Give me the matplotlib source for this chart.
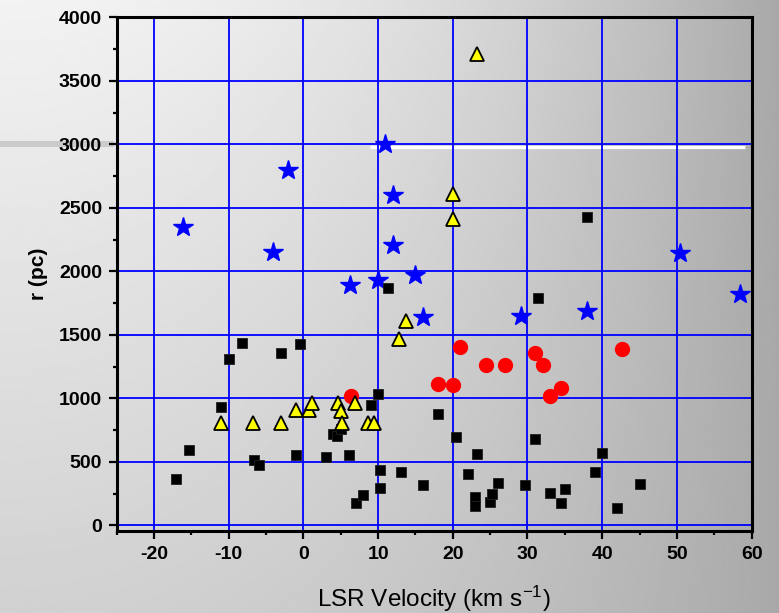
import numpy as np
import matplotlib
matplotlib.use('Agg')
import matplotlib.pyplot as plt
from matplotlib.ticker import MultipleLocator

plt.rcParams['font.family'] = ['Liberation Sans', 'DejaVu Sans']
plt.rcParams['mathtext.default'] = 'regular'
plt.rcParams['axes.unicode_minus'] = False

# 蓝色五角星
star_v = [-16.1, -2.0, -4.1, 10.9, 12.0, 12.0, 6.2, 10.0, 15.0, 16.0, 29.1, 38.0, 50.4, 58.4]
star_r = [2350, 2800, 2150, 3000, 2600, 2205, 1890, 1930, 1972, 1642, 1652, 1690, 2146, 1820]

# 红色圆点
circ_v = [6.4, 21.0, 18.0, 20.0, 24.5, 27.0, 31.0, 32.1, 34.5, 33.0, 42.6]
circ_r = [1018, 1407, 1113, 1105, 1262, 1262, 1358, 1266, 1081, 1020, 1389]

# 黑色方块
sq_v = [-17.0, -15.3, -11.0, -9.95, -8.2, -3.0, -0.45, -6.6, -6.0, -0.95,
        3.07, 3.9, 4.47, 5.0, 6.05, 7.0, 8.0, 9.05, 10.05, 10.2,
        10.3, 11.3, 13.05, 16.05, 18.0, 20.4, 22.0, 23.2, 23.0, 23.0,
        24.95, 25.3, 26.0, 29.7, 31.0, 31.4, 33.0, 34.5, 35.0, 38.0,
        39.05, 40.0, 42.0, 45.0]
sq_r = [362, 594, 934, 1312, 1440, 1357, 1430, 514, 478, 556,
        538, 720, 703, 760, 558, 175, 243, 947, 1035, 435,
        296, 1866, 417, 320, 876, 694, 404, 560, 222, 150,
        188, 246, 335, 315, 680, 1789, 257, 175, 290, 2426,
        424, 568, 139, 328]

# 黄色三角形
tri_v = [23.3, 20.0, 20.0, 13.8, 12.8, -11.0, -6.8, -3.0, -1.0, 0.7,
         1.1, 4.7, 5.1, 5.2, 6.9, 8.6, 9.4]
tri_r = [3710, 2610, 2410, 1612, 1470, 810, 810, 810, 909, 905,
         962, 962, 902, 806, 962, 806, 808]

x_ticks = [-20, -10, 0, 10, 20, 30, 40, 50, 60]
y_ticks = [0, 500, 1000, 1500, 2000, 2500, 3000, 3500, 4000]


def draw_background(fig):
    """灰色渐变背景 + 原图里的两条横向残影"""
    bg = fig.add_axes([0, 0, 1, 1], zorder=-10)
    xx, yy = np.meshgrid(np.linspace(0, 1, 400), np.linspace(0, 1, 300))
    g = 0.66 + 0.29 * (1 - xx ** 2) * (1 - 0.45 * yy)
    bg.imshow(g, cmap='gray', vmin=0, vmax=1, aspect='auto',
              extent=[0, 1, 1, 0], interpolation='bilinear')
    bg.plot([0, 0.146], [144 / 613, 144 / 613], color='#cbcbcb', lw=4.3,
            solid_capstyle='butt')
    bg.plot([0.475, 0.956], [146.5 / 613, 146.5 / 613], color='white', lw=2.3,
            solid_capstyle='butt')
    bg.set_xlim(0, 1)
    bg.set_ylim(1, 0)
    bg.axis('off')


def main():
    fig = plt.figure(figsize=(7.79, 6.13), dpi=100)
    draw_background(fig)

    ax = fig.add_axes([0.1497, 0.1338, 0.8151, 0.8378])
    ax.set_facecolor('none')

    ax.plot(star_v, star_r, ls='none', marker='*', ms=14.5, color='#0000ff',
            mec='#0000ff', zorder=3)
    ax.plot(circ_v, circ_r, ls='none', marker='o', ms=10, color='#ff0000',
            mec='#ff0000', zorder=3)
    ax.plot(sq_v, sq_r, ls='none', marker='s', ms=7.8, color='black',
            mec='#202020', mew=0.6, zorder=4)
    ax.plot(tri_v, tri_r, ls='none', marker='^', ms=10, color='#ffff00',
            mec='black', mew=1.3, zorder=5)

    ax.set_xlim(-25, 60)
    ax.set_ylim(-44, 4000)
    ax.set_xticks(x_ticks)
    ax.set_yticks(y_ticks)
    ax.xaxis.set_minor_locator(MultipleLocator(5))
    ax.yaxis.set_minor_locator(MultipleLocator(250))

    ax.grid(True, which='major', color='#0000ff', lw=1.3)
    ax.set_axisbelow(True)

    for s in ax.spines.values():
        s.set_linewidth(2.2)
        s.set_color('black')
        s.set_zorder(6)

    ax.tick_params(which='both', direction='out', top=False, right=False,
                   width=1.6, color='black')
    ax.tick_params(which='major', length=5.5, pad=5, labelsize=14)
    ax.tick_params(which='minor', length=3)
    for lab in ax.get_xticklabels() + ax.get_yticklabels():
        lab.set_fontweight('bold')

    ax.set_xlabel('LSR Velocity (km s$^{-1}$)', fontsize=17.5, labelpad=15)
    ax.set_ylabel('r (pc)', fontsize=15, fontweight='bold', labelpad=8)

    fig.savefig('out.png', dpi=100)
    plt.close(fig)


if __name__ == '__main__':
    main()
